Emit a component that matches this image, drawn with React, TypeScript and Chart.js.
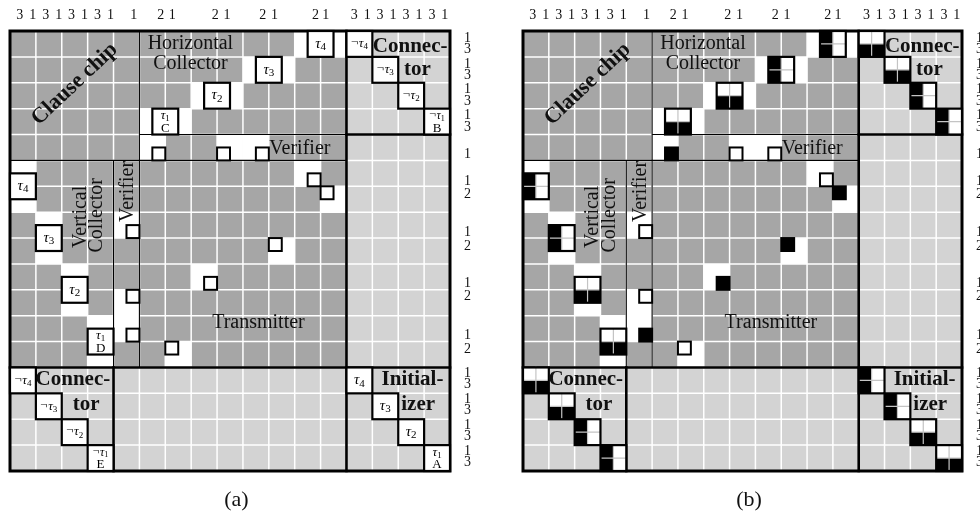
import React, { useEffect, useRef } from 'react';
import { Chart, registerables } from 'chart.js';

Chart.register(...registerables);

// ---------- data ----------
const GRID_SIZE = 17;

// top axis digits (value = column position in grid units)
const topTickValues = [0.38, 0.88, 1.38, 1.88, 2.38, 2.88, 3.38, 3.88, 4.78, 5.82, 6.27, 7.93, 8.38, 9.77, 10.22, 11.8, 12.2, 13.3, 13.8, 14.3, 14.8, 15.3, 15.8, 16.3, 16.8];
const topTickLabels = ['3', '1', '3', '1', '3', '1', '3', '1', '1', '2', '1', '2', '1', '2', '1', '2', '1', '3', '1', '3', '1', '3', '1', '3', '1'];

// right axis digits (value = row position in grid units)
const rightTickValues = [0.27, 0.72, 1.27, 1.72, 2.27, 2.72, 3.27, 3.72, 4.75, 5.82, 6.32, 7.78, 8.33, 9.75, 10.27, 11.75, 12.3, 13.22, 13.64, 14.25, 14.66, 15.25, 15.66, 16.25, 16.66];
const rightTickLabels = ['1', '3', '1', '3', '1', '3', '1', '3', '1', '1', '2', '1', '2', '1', '2', '1', '2', '1', '3', '1', '3', '1', '3', '1', '3'];

// white cells [row, col]
const whiteCells: [number, number][] = [
  [3, 5], [3, 6], [2, 7], [2, 8], [1, 9], [1, 10], [0, 11], [0, 12],
  [4, 5], [4, 8], [4, 9],
  [5, 0], [6, 0], [7, 1], [8, 1], [9, 2], [10, 2], [11, 3], [12, 3],
  [7, 4], [10, 4], [11, 4],
  [5, 11], [6, 12], [8, 10], [9, 7], [12, 6],
];

// literal boxes (centre in grid units)
const boxX = [6, 8, 10, 12, 0.5, 1.5, 2.5, 3.5, 13.5, 14.5, 15.5, 16.5, 0.5, 1.5, 2.5, 3.5, 13.5, 14.5, 15.5, 16.5];
const boxY = [3.5, 2.5, 1.5, 0.5, 6, 8, 10, 12, 0.5, 1.5, 2.5, 3.5, 13.5, 14.5, 15.5, 16.5, 13.5, 14.5, 15.5, 16.5];
const boxNeg = [false, false, false, false, false, false, false, false, true, true, true, true, true, true, true, true, false, false, false, false];
const boxSub = [1, 2, 3, 4, 4, 3, 2, 1, 4, 3, 2, 1, 4, 3, 2, 1, 4, 3, 2, 1];
const boxTag = ['C', '', '', '', '', '', '', 'D', '', '', '', 'B', '', '', '', 'E', '', '', '', 'A'];
// panel (b): 'h' = top white / bottom black, 'v' = left black / right white
const boxSplit = ['h', 'h', 'v', 'v', 'v', 'v', 'h', 'h', 'h', 'h', 'v', 'v', 'h', 'h', 'v', 'v', 'v', 'v', 'h', 'h'];

// small probe squares (centre in grid units), filled black in panel (b)
const probeX = [5.75, 8.25, 9.75, 4.75, 4.75, 4.75, 11.75, 12.25, 10.25, 7.75, 6.25];
const probeY = [4.75, 4.75, 4.75, 7.75, 10.25, 11.75, 5.75, 6.25, 8.25, 9.75, 12.25];
const probeBlackB = [true, false, false, false, false, true, false, true, true, true, false];

const DARK = '#a6a6a6';
const LIGHT = '#d3d3d3';
const FONT = '"Liberation Serif", "Times New Roman", serif';

function drawTau(ctx: CanvasRenderingContext2D, cx: number, cy: number, neg: boolean, sub: number, size: number) {
  const negF = `${size}px ${FONT}`;
  const mainF = `italic ${size}px ${FONT}`;
  const subF = `${Math.round(size * 0.7)}px ${FONT}`;
  ctx.font = negF;
  const wn = neg ? ctx.measureText('¬').width + 0.5 : 0;
  ctx.font = mainF;
  const wt = ctx.measureText('τ').width;
  ctx.font = subF;
  const ws = ctx.measureText(String(sub)).width;
  let x = cx - (wn + wt + ws) / 2;
  const base = cy + size * 0.25;
  ctx.textAlign = 'left';
  ctx.textBaseline = 'alphabetic';
  if (neg) {
    ctx.font = negF;
    ctx.fillText('¬', x, base - size * 0.08);
    x += wn;
  }
  ctx.font = mainF;
  ctx.fillText('τ', x, base);
  x += wt;
  ctx.font = subF;
  ctx.fillText(String(sub), x, base + size * 0.16);
}

function makePlugin(variant: 'a' | 'b') {
  return {
    id: 'gadgetFigure' + variant,
    afterDraw(chart: any) {
      const ctx: CanvasRenderingContext2D = chart.ctx;
      const xs = chart.scales.x;
      const ys = chart.scales.y;
      const X = (v: number) => xs.getPixelForValue(v);
      const Y = (v: number) => ys.getPixelForValue(v);
      const rect = (x0: number, y0: number, x1: number, y1: number, color: string) => {
        ctx.fillStyle = color;
        ctx.fillRect(X(x0), Y(y0), X(x1) - X(x0), Y(y1) - Y(y0));
      };
      const line = (x0: number, y0: number, x1: number, y1: number, w: number, color: string) => {
        ctx.beginPath();
        ctx.strokeStyle = color;
        ctx.lineWidth = w;
        ctx.lineCap = 'square';
        ctx.moveTo(X(x0), Y(y0));
        ctx.lineTo(X(x1), Y(y1));
        ctx.stroke();
      };
      ctx.save();
      // backgrounds
      rect(0, 0, GRID_SIZE, GRID_SIZE, LIGHT);
      rect(0, 0, 13, 13, DARK);
      whiteCells.forEach(([r, c]) => rect(c, r, c + 1, r + 1, '#ffffff'));
      // white grid
      for (let i = 1; i < GRID_SIZE; i++) {
        line(i, 0, i, GRID_SIZE, 1.5, '#ffffff');
        line(0, i, GRID_SIZE, i, 1.5, '#ffffff');
      }
      ctx.lineCap = 'butt';
      // thin separators
      const thin = (a: number, b: number, c: number, d: number) => {
        ctx.beginPath();
        ctx.strokeStyle = '#000';
        ctx.lineWidth = 1.1;
        ctx.moveTo(X(a), Y(b));
        ctx.lineTo(X(c), Y(d));
        ctx.stroke();
      };
      thin(5, 0, 5, 13);
      thin(4, 5, 4, 13);
      thin(5, 4, 13, 4);
      thin(0, 5, 13, 5);
      // thick block borders
      line(13, 0, 13, 17, 2.6, '#000');
      line(0, 13, 17, 13, 2.6, '#000');
      line(4, 13, 4, 17, 2.6, '#000');
      line(13, 4, 17, 4, 2.6, '#000');
      ctx.lineWidth = 3;
      ctx.strokeStyle = '#000';
      ctx.strokeRect(X(0), Y(0), X(17) - X(0), Y(17) - Y(0));

      // literal boxes
      boxX.forEach((bx, i) => {
        const by = boxY[i];
        const x0 = X(bx - 0.5), x1 = X(bx + 0.5), y0 = Y(by - 0.5), y1 = Y(by + 0.5);
        const xm = X(bx), ym = Y(by);
        ctx.fillStyle = '#fff';
        ctx.fillRect(x0, y0, x1 - x0, y1 - y0);
        if (variant === 'b') {
          ctx.fillStyle = '#000';
          if (boxSplit[i] === 'h') ctx.fillRect(x0, ym, x1 - x0, y1 - ym);
          else ctx.fillRect(x0, y0, xm - x0, y1 - y0);
          ctx.beginPath();
          ctx.strokeStyle = '#c4c4c4';
          ctx.lineWidth = 1.2;
          ctx.moveTo(xm, y0);
          ctx.lineTo(xm, y1);
          ctx.moveTo(x0, ym);
          ctx.lineTo(x1, ym);
          ctx.stroke();
        }
        ctx.lineWidth = 2.2;
        ctx.strokeStyle = '#000';
        ctx.strokeRect(x0, y0, x1 - x0, y1 - y0);
        if (variant === 'a') {
          ctx.fillStyle = '#000';
          const neg = boxNeg[i];
          if (boxTag[i]) {
            drawTau(ctx, xm, ym - 5.5, neg, boxSub[i], neg ? 12 : 13);
            ctx.font = `13px ${FONT}`;
            ctx.textAlign = 'center';
            ctx.textBaseline = 'middle';
            ctx.fillText(boxTag[i], xm, ym + 6.5);
          } else {
            drawTau(ctx, xm, ym, neg, boxSub[i], neg ? 13 : 15);
          }
        }
      });

      // probes
      probeX.forEach((px, i) => {
        const py = probeY[i];
        const x0 = X(px - 0.25), x1 = X(px + 0.25), y0 = Y(py - 0.25), y1 = Y(py + 0.25);
        ctx.fillStyle = variant === 'b' && probeBlackB[i] ? '#000' : '#fff';
        ctx.fillRect(x0, y0, x1 - x0, y1 - y0);
        ctx.lineWidth = 2;
        ctx.strokeStyle = '#000';
        ctx.strokeRect(x0, y0, x1 - x0, y1 - y0);
      });

      // region names
      ctx.fillStyle = '#111';
      ctx.textAlign = 'center';
      ctx.textBaseline = 'middle';
      const txt = (s: string, x: number, y: number, font: string, rot = 0) => {
        ctx.save();
        ctx.font = font;
        ctx.translate(X(x), Y(y));
        ctx.rotate(rot);
        ctx.fillText(s, 0, 0);
        ctx.restore();
      };
      const reg = `20px ${FONT}`;
      const bold = `bold 21px ${FONT}`;
      txt('Clause chip', 2.5, 2.05, `bold 22px ${FONT}`, -Math.PI / 4 + 0.03);
      txt('Horizontal', 6.97, 0.5, reg);
      txt('Collector', 6.97, 1.28, reg);
      txt('Verifier', 11.2, 4.55, reg);
      txt('Vertical', 2.72, 7.18, reg, -Math.PI / 2);
      txt('Collector', 3.34, 7.12, reg, -Math.PI / 2);
      txt('Verifier', 4.55, 6.2, reg, -Math.PI / 2);
      txt('Transmitter', 9.6, 11.28, reg);
      txt('Connec-', 15.46, 0.6, bold);
      txt('tor', 15.74, 1.48, bold);
      txt('Connec-', 2.43, 13.46, bold);
      txt('tor', 2.94, 14.42, bold);
      txt('Initial-', 15.55, 13.46, bold);
      txt('izer', 15.77, 14.42, bold);

      // axis digits
      ctx.font = `14px ${FONT}`;
      ctx.fillStyle = '#111';
      topTickValues.forEach((v, i) => {
        ctx.fillText(topTickLabels[i], X(v), Y(0) - 16);
      });
      rightTickValues.forEach((v, i) => {
        ctx.fillText(rightTickLabels[i], X(GRID_SIZE) + 17.5, Y(v));
      });
      // caption
      ctx.font = `22px ${FONT}`;
      ctx.fillText(variant === 'a' ? '(a)' : '(b)', X(8.75), Y(17) + 29);
      ctx.restore();
    },
  };
}

function Panel({ variant, left, padLeft, padRight }: { variant: 'a' | 'b'; left: number; padLeft: number; padRight: number }) {
  const ref = useRef<HTMLCanvasElement>(null);
  useEffect(() => {
    if (!ref.current) return;
    const chart = new Chart(ref.current, {
      type: 'scatter',
      data: { datasets: [] },
      options: {
        responsive: false,
        animation: false,
        devicePixelRatio: 1,
        events: [],
        layout: { padding: { left: padLeft, right: padRight, top: 31, bottom: 43 } },
        plugins: { legend: { display: false }, tooltip: { enabled: false }, title: { display: false } },
        scales: {
          x: { type: 'linear', min: 0, max: GRID_SIZE, display: false },
          y: { type: 'linear', min: 0, max: GRID_SIZE, reverse: true, display: false },
        },
      },
      plugins: [makePlugin(variant)],
    } as any);
    return () => chart.destroy();
  }, [variant, padLeft, padRight]);
  return (
    <canvas
      ref={ref}
      width={490}
      height={514}
      style={{ position: 'absolute', left, top: 0, width: 490, height: 514 }}
    />
  );
}

export default function App() {
  return (
    <div style={{ position: 'absolute', left: 0, top: 0, width: 980, height: 514, background: '#fff', overflow: 'hidden' }}>
      <Panel variant="a" left={0} padLeft={10} padRight={40} />
      <Panel variant="b" left={490} padLeft={33} padRight={18} />
    </div>
  );
}
